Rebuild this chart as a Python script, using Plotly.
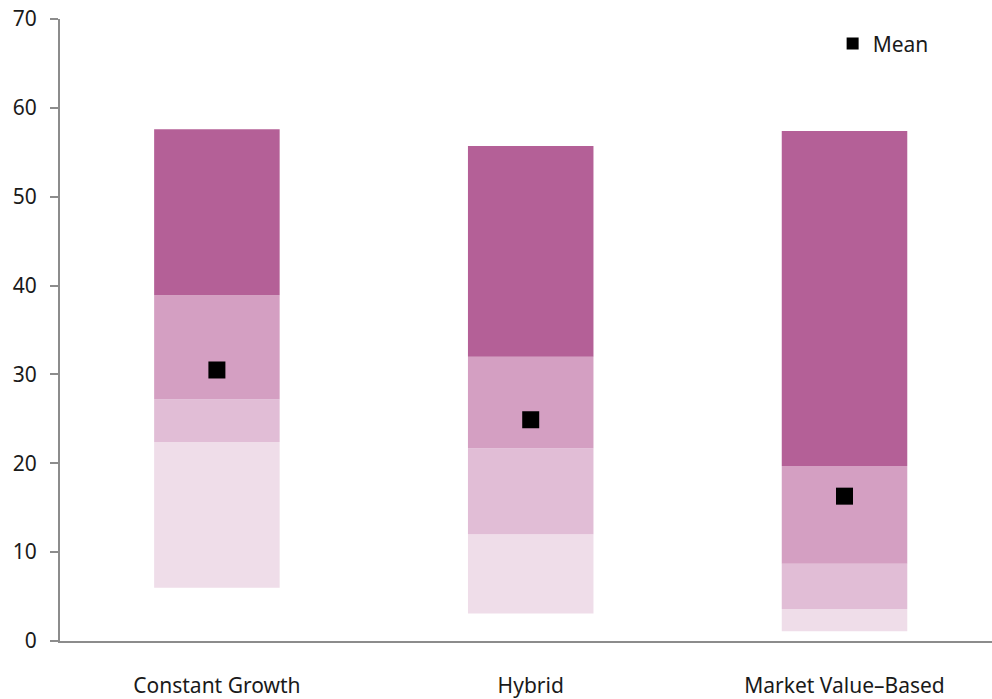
import plotly.graph_objects as go

# Distribution of outcomes by method (percentile bands) and the mean
categories = ["Constant Growth", "Hybrid", "Market Value\u2013Based"]
p5 = [6.0, 3.1, 1.1]
p25 = [22.4, 12.0, 3.6]
p50 = [27.2, 21.7, 8.7]
p75 = [38.9, 32.0, 19.7]
p95 = [57.6, 55.7, 57.4]
mean = [30.5, 24.9, 16.3]

band_colors = ["#EFDDE9", "#E1BDD6", "#D49FC2", "#B46097"]
bounds = [p5, p25, p50, p75, p95]

fig = go.Figure()
for i, color in enumerate(band_colors):
    lo, hi = bounds[i], bounds[i + 1]
    fig.add_trace(go.Bar(
        x=categories,
        y=[h - l for l, h in zip(lo, hi)],
        base=lo,
        marker=dict(color=color, line=dict(width=0)),
        width=0.4,
        showlegend=False,
        hoverinfo="skip",
    ))

fig.add_trace(go.Scatter(
    x=categories,
    y=mean,
    mode="markers",
    name="Mean",
    marker=dict(symbol="square", size=17, color="black"),
))

font_family = "Noto Sans, Open Sans, sans-serif"
fig.update_layout(
    width=992,
    height=699,
    barmode="overlay",
    plot_bgcolor="white",
    paper_bgcolor="white",
    margin=dict(l=60, r=0, t=19, b=58),
    font=dict(family=font_family, size=21, color="#1a1a1a"),
    showlegend=True,
    legend=dict(
        x=0.829, y=0.96, xanchor="left", yanchor="middle",
        bgcolor="rgba(0,0,0,0)", font=dict(size=21),
        itemsizing="constant",
    ),
    xaxis=dict(
        range=[-0.5, 2.47],
        showline=True, linecolor="#8c8c8c", linewidth=2,
        ticks="", showgrid=False, zeroline=False,
        ticklabelstandoff=25, automargin=False,
    ),
    yaxis=dict(
        range=[0, 70], dtick=10,
        showline=True, linecolor="#8c8c8c", linewidth=2,
        ticks="outside", ticklen=8, tickwidth=2, tickcolor="#8c8c8c",
        showgrid=False, zeroline=False,
        ticklabelstandoff=9, automargin=False,
    ),
)

fig.write_html("out.html")
